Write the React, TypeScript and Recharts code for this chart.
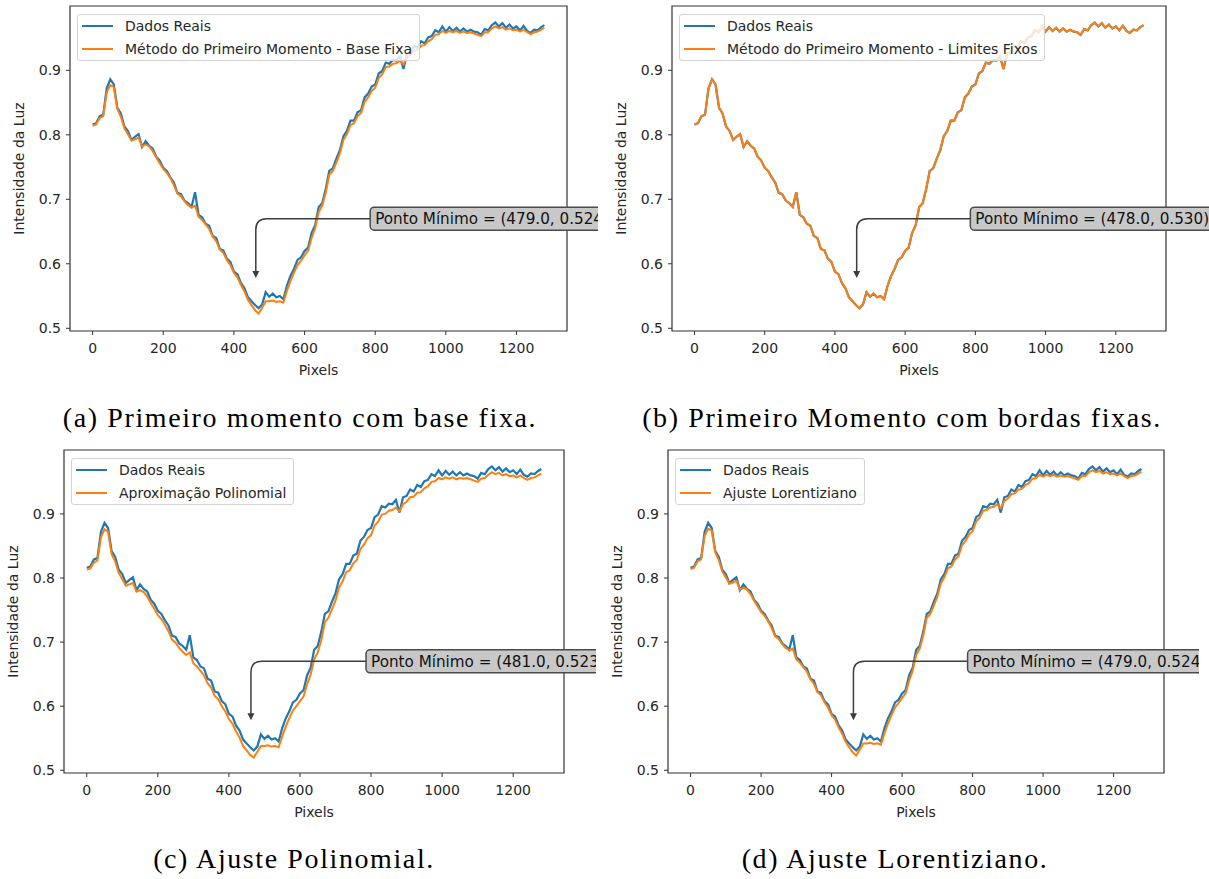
import React from "react";
import { LineChart, Line, XAxis, YAxis, ReferenceArea, ReferenceLine } from "recharts";

// pixel positions sampled every 10 px along the slit profile
const PIXELS = [
  0, 10, 20, 30, 40, 50, 60, 70, 80, 90,
  100, 110, 120, 130, 140, 150, 160, 170, 180, 190,
  200, 210, 220, 230, 240, 250, 260, 270, 280, 290,
  300, 310, 320, 330, 340, 350, 360, 370, 380, 390,
  400, 410, 420, 430, 440, 450, 460, 470, 480, 490,
  500, 510, 520, 530, 540, 550, 560, 570, 580, 590,
  600, 610, 620, 630, 640, 650, 660, 670, 680, 690,
  700, 710, 720, 730, 740, 750, 760, 770, 780, 790,
  800, 810, 820, 830, 840, 850, 860, 870, 880, 890,
  900, 910, 920, 930, 940, 950, 960, 970, 980, 990,
  1000, 1010, 1020, 1030, 1040, 1050, 1060, 1070, 1080, 1090,
  1100, 1110, 1120, 1130, 1140, 1150, 1160, 1170, 1180, 1190,
  1200, 1210, 1220, 1230, 1240, 1250, 1260, 1270, 1279,
];

const DADOS_REAIS = [
  0.816, 0.818, 0.829, 0.831, 0.872, 0.886, 0.878, 0.842, 0.833, 0.813,
  0.806, 0.792, 0.797, 0.801, 0.781, 0.79, 0.783, 0.779, 0.766, 0.76,
  0.749, 0.744, 0.734, 0.726, 0.71, 0.708, 0.698, 0.694, 0.688, 0.711,
  0.676, 0.672, 0.662, 0.659, 0.643, 0.64, 0.623, 0.621, 0.608, 0.603,
  0.588, 0.584, 0.57, 0.562, 0.548, 0.542, 0.536, 0.531, 0.537, 0.556,
  0.549, 0.554, 0.548, 0.55, 0.545, 0.566, 0.581, 0.592, 0.606, 0.61,
  0.62, 0.625, 0.648, 0.66, 0.688, 0.694, 0.716, 0.744, 0.748, 0.763,
  0.776, 0.798, 0.806, 0.822, 0.822, 0.835, 0.838, 0.858, 0.864, 0.875,
  0.878, 0.895, 0.899, 0.912, 0.91, 0.916, 0.915, 0.922, 0.902, 0.926,
  0.928, 0.938, 0.935, 0.945, 0.942, 0.951, 0.953, 0.962, 0.959, 0.968,
  0.96, 0.967, 0.961, 0.966, 0.96, 0.965, 0.96, 0.963, 0.96, 0.959,
  0.955, 0.964, 0.962, 0.97, 0.974, 0.968, 0.973, 0.966, 0.971, 0.965,
  0.968, 0.962, 0.969, 0.961, 0.958, 0.963, 0.962, 0.967, 0.97,
];

// fitted curve used in (a) and (d)
const AJUSTE_SUAVE = [
  0.814, 0.816, 0.826, 0.829, 0.866, 0.877, 0.874, 0.84, 0.828, 0.81,
  0.801, 0.791, 0.793, 0.796, 0.782, 0.785, 0.782, 0.775, 0.765, 0.756,
  0.747, 0.741, 0.733, 0.722, 0.709, 0.705, 0.697, 0.691, 0.687, 0.69,
  0.673, 0.668, 0.661, 0.654, 0.642, 0.635, 0.622, 0.617, 0.606, 0.598,
  0.586, 0.579, 0.567, 0.557, 0.544, 0.536, 0.528, 0.523, 0.532, 0.542,
  0.542, 0.543, 0.541, 0.542, 0.54, 0.558, 0.573, 0.586, 0.598, 0.605,
  0.613, 0.62, 0.64, 0.655, 0.68, 0.69, 0.71, 0.738, 0.744, 0.757,
  0.771, 0.792, 0.801, 0.815, 0.818, 0.829, 0.834, 0.851, 0.858, 0.868,
  0.873, 0.888, 0.894, 0.905, 0.906, 0.91, 0.911, 0.915, 0.909, 0.92,
  0.924, 0.931, 0.932, 0.938, 0.939, 0.945, 0.948, 0.955, 0.956, 0.961,
  0.958, 0.961, 0.959, 0.961, 0.958, 0.96, 0.958, 0.959, 0.957, 0.955,
  0.953, 0.959, 0.959, 0.965, 0.968, 0.965, 0.967, 0.963, 0.965, 0.962,
  0.963, 0.96, 0.963, 0.959, 0.956, 0.959, 0.96, 0.963, 0.966,
];

// polynomial fit used in (c)
const AJUSTE_POLINOMIAL = [
  0.813, 0.815, 0.824, 0.827, 0.864, 0.876, 0.872, 0.837, 0.826, 0.808,
  0.798, 0.788, 0.79, 0.792, 0.779, 0.781, 0.778, 0.771, 0.761, 0.752,
  0.742, 0.736, 0.727, 0.717, 0.704, 0.699, 0.691, 0.685, 0.68, 0.684,
  0.667, 0.662, 0.655, 0.648, 0.636, 0.629, 0.616, 0.611, 0.6, 0.592,
  0.58, 0.573, 0.561, 0.551, 0.538, 0.531, 0.524, 0.52, 0.529, 0.538,
  0.538, 0.539, 0.537, 0.538, 0.536, 0.553, 0.568, 0.581, 0.593, 0.6,
  0.608, 0.615, 0.634, 0.649, 0.673, 0.684, 0.703, 0.731, 0.738, 0.751,
  0.765, 0.785, 0.795, 0.809, 0.812, 0.823, 0.828, 0.845, 0.852, 0.862,
  0.867, 0.882, 0.888, 0.899, 0.9, 0.905, 0.906, 0.91, 0.904, 0.915,
  0.919, 0.926, 0.927, 0.933, 0.934, 0.94, 0.943, 0.95, 0.951, 0.956,
  0.954, 0.957, 0.955, 0.957, 0.954, 0.956, 0.955, 0.956, 0.954, 0.952,
  0.95, 0.955, 0.956, 0.961, 0.965, 0.962, 0.964, 0.96, 0.962, 0.959,
  0.96, 0.957, 0.96, 0.956, 0.953, 0.956, 0.957, 0.96, 0.963,
];

const X_TICKS = [0, 200, 400, 600, 800, 1000, 1200];
const Y_TICKS = [0.5, 0.6, 0.7, 0.8, 0.9];
const X_DOMAIN: [number, number] = [-64, 1343];
const Y_DOMAIN: [number, number] = [0.4958, 0.9997];

// annotation anchor (text) and arrow tip, in data units
const NOTE_TEXT = { x: 800, y: 0.67 };
const NOTE_TIP = { x: 462, y: 0.578 };

const BLUE = "#1f77b4";
const ORANGE = "#ff7f0e";
const INK = "#262626";
const SANS = "DejaVu Sans";
const Y_AXIS_W = 60;
const X_AXIS_H = 46;

const data = PIXELS.map((x, i) => ({
  x,
  real: DADOS_REAIS[i],
  suave: AJUSTE_SUAVE[i],
  poli: AJUSTE_POLINOMIAL[i],
}));

const PANELS = [
  {
    id: "a", left: 0, top: 0, width: 598,
    plotLeft: 70, plotRight: 567, plotTop: 6, plotBottom: 331,
    fitKey: "suave", fitName: "Método do Primeiro Momento - Base Fixa",
    minimo: "(479.0, 0.524)",
    caption: "(a) Primeiro momento com base fixa.", captionX: 300, captionBase: 428,
  },
  {
    id: "b", left: 602, top: 0, width: 607,
    plotLeft: 672, plotRight: 1166, plotTop: 6, plotBottom: 331,
    fitKey: "real", fitName: "Método do Primeiro Momento - Limites Fixos",
    minimo: "(478.0, 0.530)",
    caption: "(b) Primeiro Momento com bordas fixas.", captionX: 902, captionBase: 428,
  },
  {
    id: "c", left: 0, top: 444, width: 596,
    plotLeft: 64, plotRight: 564, plotTop: 450, plotBottom: 773,
    fitKey: "poli", fitName: "Aproximação Polinomial",
    minimo: "(481.0, 0.523)",
    caption: "(c) Ajuste Polinomial.", captionX: 294, captionBase: 869,
  },
  {
    id: "d", left: 602, top: 444, width: 597,
    plotLeft: 668, plotRight: 1164, plotTop: 450, plotBottom: 773,
    fitKey: "suave", fitName: "Ajuste Lorentiziano",
    minimo: "(479.0, 0.524)",
    caption: "(d) Ajuste Lorentiziano.", captionX: 895, captionBase: 869,
  },
];

type Panel = (typeof PANELS)[number];

function noteShape(minimo: string) {
  return (p: any) => {
    const { x1, y1, x2, y2 } = p;
    const r = 11;
    const boxLeft = x1 - 5;
    return (
      <g>
        <path
          d={`M${boxLeft},${y1} L${x2 + r},${y1} Q${x2},${y1} ${x2},${y1 + r} L${x2},${y2 - 6}`}
          fill="none"
          stroke="#3c3c3c"
          strokeWidth={1.5}
        />
        <path d={`M${x2 - 3.5},${y2 - 7} L${x2 + 3.5},${y2 - 7} L${x2},${y2} Z`} fill="#3c3c3c" />
        <rect
          x={boxLeft}
          y={y1 - 11.5}
          width={270}
          height={23}
          rx={4}
          fill="#c8c8c8"
          stroke="#4a4a4a"
          strokeWidth={1.5}
        />
        <text x={x1} y={y1 + 5.5} fontSize={15.2} fill="#111" fontFamily={SANS}>
          {`Ponto Mínimo = ${minimo}`}
        </text>
      </g>
    );
  };
}

function PanelChart({ p }: { p: Panel }) {
  const height = p.plotTop - p.top + (p.plotBottom - p.plotTop) + X_AXIS_H;
  const margin = {
    top: p.plotTop - p.top,
    right: p.left + p.width - p.plotRight,
    bottom: 0,
    left: p.plotLeft - p.left - Y_AXIS_W,
  };
  const tick = { fontSize: 14, fill: INK, fontFamily: SANS };

  return (
    <>
      <div
        style={{
          position: "absolute",
          left: p.left,
          top: p.top,
          width: p.width,
          height,
          overflow: "hidden",
        }}
      >
        <LineChart width={p.width} height={height} data={data} margin={margin}>
          <XAxis
            dataKey="x"
            type="number"
            domain={X_DOMAIN}
            ticks={X_TICKS}
            allowDataOverflow
            axisLine={false}
            tickSize={4}
            tickMargin={8}
            tickLine={{ stroke: "#333" }}
            tick={tick}
            height={X_AXIS_H}
            label={{
              content: (lp: any) => {
                const vb = lp.viewBox;
                return (
                  <text
                    x={vb.x + vb.width / 2}
                    y={vb.y + 44}
                    textAnchor="middle"
                    fontSize={14}
                    fill={INK}
                    fontFamily={SANS}
                  >
                    Pixels
                  </text>
                );
              },
            }}
          />
          <YAxis
            type="number"
            domain={Y_DOMAIN}
            ticks={Y_TICKS}
            allowDataOverflow
            axisLine={false}
            tickSize={4}
            tickMargin={5}
            tickLine={{ stroke: "#333" }}
            tick={tick}
            tickFormatter={(v: number) => v.toFixed(1)}
            width={Y_AXIS_W}
            label={{
              content: (lp: any) => {
                const vb = lp.viewBox;
                const x = vb.x + vb.width - 46;
                const y = vb.y + vb.height / 2;
                return (
                  <text
                    x={x}
                    y={y}
                    transform={`rotate(-90, ${x}, ${y})`}
                    textAnchor="middle"
                    fontSize={14}
                    fill={INK}
                    fontFamily={SANS}
                  >
                    Intensidade da Luz
                  </text>
                );
              },
            }}
          />
          <Line
            dataKey="real"
            stroke={BLUE}
            strokeWidth={2.2}
            dot={false}
            activeDot={false}
            isAnimationActive={false}
          />
          <Line
            dataKey={p.fitKey}
            stroke={ORANGE}
            strokeWidth={2}
            dot={false}
            activeDot={false}
            isAnimationActive={false}
          />
          <ReferenceArea
            x1={X_DOMAIN[0]}
            x2={X_DOMAIN[1]}
            y1={Y_DOMAIN[0]}
            y2={Y_DOMAIN[1]}
            fill="none"
            fillOpacity={0}
            stroke="#333"
            strokeWidth={1.2}
            ifOverflow="visible"
          />
          <ReferenceLine
            segment={[NOTE_TEXT, NOTE_TIP]}
            ifOverflow="visible"
            shape={noteShape(p.minimo)}
          />
        </LineChart>

        <div
          style={{
            position: "absolute",
            left: p.plotLeft - p.left + 7,
            top: p.plotTop - p.top + 8,
            border: "1px solid #d4d4d4",
            borderRadius: 3,
            background: "rgba(255,255,255,0.8)",
            padding: "0 7px 0 4px",
            fontFamily: SANS,
            fontSize: 14,
            color: INK,
            lineHeight: "22.7px",
            whiteSpace: "nowrap",
          }}
        >
          {[
            { name: "Dados Reais", color: BLUE },
            { name: p.fitName, color: ORANGE },
          ].map((it) => (
            <div key={it.name} style={{ display: "flex", alignItems: "center" }}>
              <span
                style={{
                  display: "inline-block",
                  width: 31,
                  height: 2,
                  background: it.color,
                  marginRight: 12,
                }}
              />
              <span>{it.name}</span>
            </div>
          ))}
        </div>
      </div>

      <div
        style={{
          position: "absolute",
          left: p.captionX - 300,
          top: p.captionBase - 25,
          width: 600,
          textAlign: "center",
          fontFamily: "Liberation Serif",
          fontSize: 28,
          lineHeight: "30px",
          letterSpacing: 1.6,
          color: "#000",
          whiteSpace: "nowrap",
        }}
      >
        {p.caption}
      </div>
    </>
  );
}

export default function App() {
  return (
    <div
      style={{
        position: "absolute",
        left: 0,
        top: 0,
        width: 1209,
        height: 879,
        background: "#fff",
        overflow: "hidden",
      }}
    >
      {PANELS.map((p) => (
        <PanelChart key={p.id} p={p} />
      ))}
    </div>
  );
}
